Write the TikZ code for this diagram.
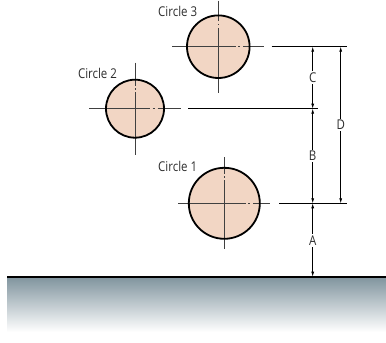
\documentclass[tikz,border=0pt]{standalone}
\usepackage{fontspec}
\setmainfont[FakeStretch=0.85]{Open Sans}
\usetikzlibrary{arrows.meta}
\definecolor{disc}{RGB}{242,214,196}
\definecolor{ground}{RGB}{128,148,158}
\definecolor{ink}{RGB}{45,45,45}
\tikzset{
  holeline/.style={draw=black,line width=1.8pt},
  axis/.style={draw=black!75,line width=0.9pt},
  ext/.style={draw=black,line width=0.8pt},
  dim/.style={draw=black,line width=0.7pt,{Latex[length=5pt,width=3pt]}-{Latex[length=5pt,width=3pt]}},
  lbl/.style={font=\fontsize{13.5}{15}\selectfont,text=ink,inner sep=1pt},
  dimlbl/.style={lbl,fill=white,inner sep=1.5pt}
}
% name, x, y, radius
\newcommand{\hole}[4]{%
  \coordinate (#1) at (#2,#3);
  \fill[disc] (#1) circle (#4pt);
  \draw[axis] ({#2-46},#3) -- ({#2+#4-14},#3)
    ({#2+#4-11.5},#3) -- ({#2+#4-9.5},#3)
    ({#2+#4-6.5},#3) -- ({#2+46},#3);
  \draw[axis] (#2,{#3-46}) -- (#2,{#3-#4+6})
    (#2,{#3-#4+8.5}) -- (#2,{#3-#4+10})
    (#2,{#3-#4+12.5}) -- (#2,{#3+46});
  \draw[holeline] (#1) circle (#4pt);
}

\begin{document}
\begin{tikzpicture}[x=1pt,y=-1pt]
   \useasboundingbox (0,0) rectangle (386,343);

   % ground
   \shade[top color=ground,bottom color=white] (7.3,277) rectangle (386,332);
   \coordinate (gl) at (7.3,276.7);
   \coordinate (gr) at (386,276.7);
   \draw[line width=2.2pt] (gl) -- (gr);

   % holes
   \hole{c3}{218.3}{46.7}{31.3}
   \hole{c2}{135}{108.7}{29}
   \hole{c1}{224.3}{203.3}{35.5}

   \node[lbl] (t3) at (177.7,11.5) {Circle 3};
   \node[lbl] (t2) at (97.5,73) {Circle 2};
   \node[lbl] (t1) at (177.7,166.3) {Circle 1};

   % extension lines
   \coordinate (e3a) at (271.7,46.7);
   \coordinate (e3b) at (346.7,46.7);
   \coordinate (e2a) at (188.3,108.7);
   \coordinate (e2b) at (317.7,108.7);
   \coordinate (e1a) at (279.3,203.3);
   \coordinate (e1b) at (346.7,203.3);
   \draw[ext] (e3a) -- (e3b);
   \draw[ext] (e2a) -- (e2b);
   \draw[ext] (e1a) -- (e1b);

   % dimensions
   \coordinate (d3) at (312.7,46.7);
   \coordinate (d2) at (312.7,108.7);
   \coordinate (d1) at (312.7,203.3);
   \coordinate (d0) at (312.7,276.7);
   \coordinate (D3) at (340.7,46.7);
   \coordinate (D1) at (340.7,203.3);
   \draw[dim] (d3) -- (d2) node[dimlbl,midway] (lC) {C};
   \draw[dim] (d2) -- (d1) node[dimlbl,pos=0.5] (lB) {B};
   \draw[dim] (d1) -- (d0) node[dimlbl,pos=0.51] (lA) {A};
   \draw[dim] (D3) -- (D1) node[dimlbl,pos=0.5] (lD) {D};
\end{tikzpicture}
\end{document}
